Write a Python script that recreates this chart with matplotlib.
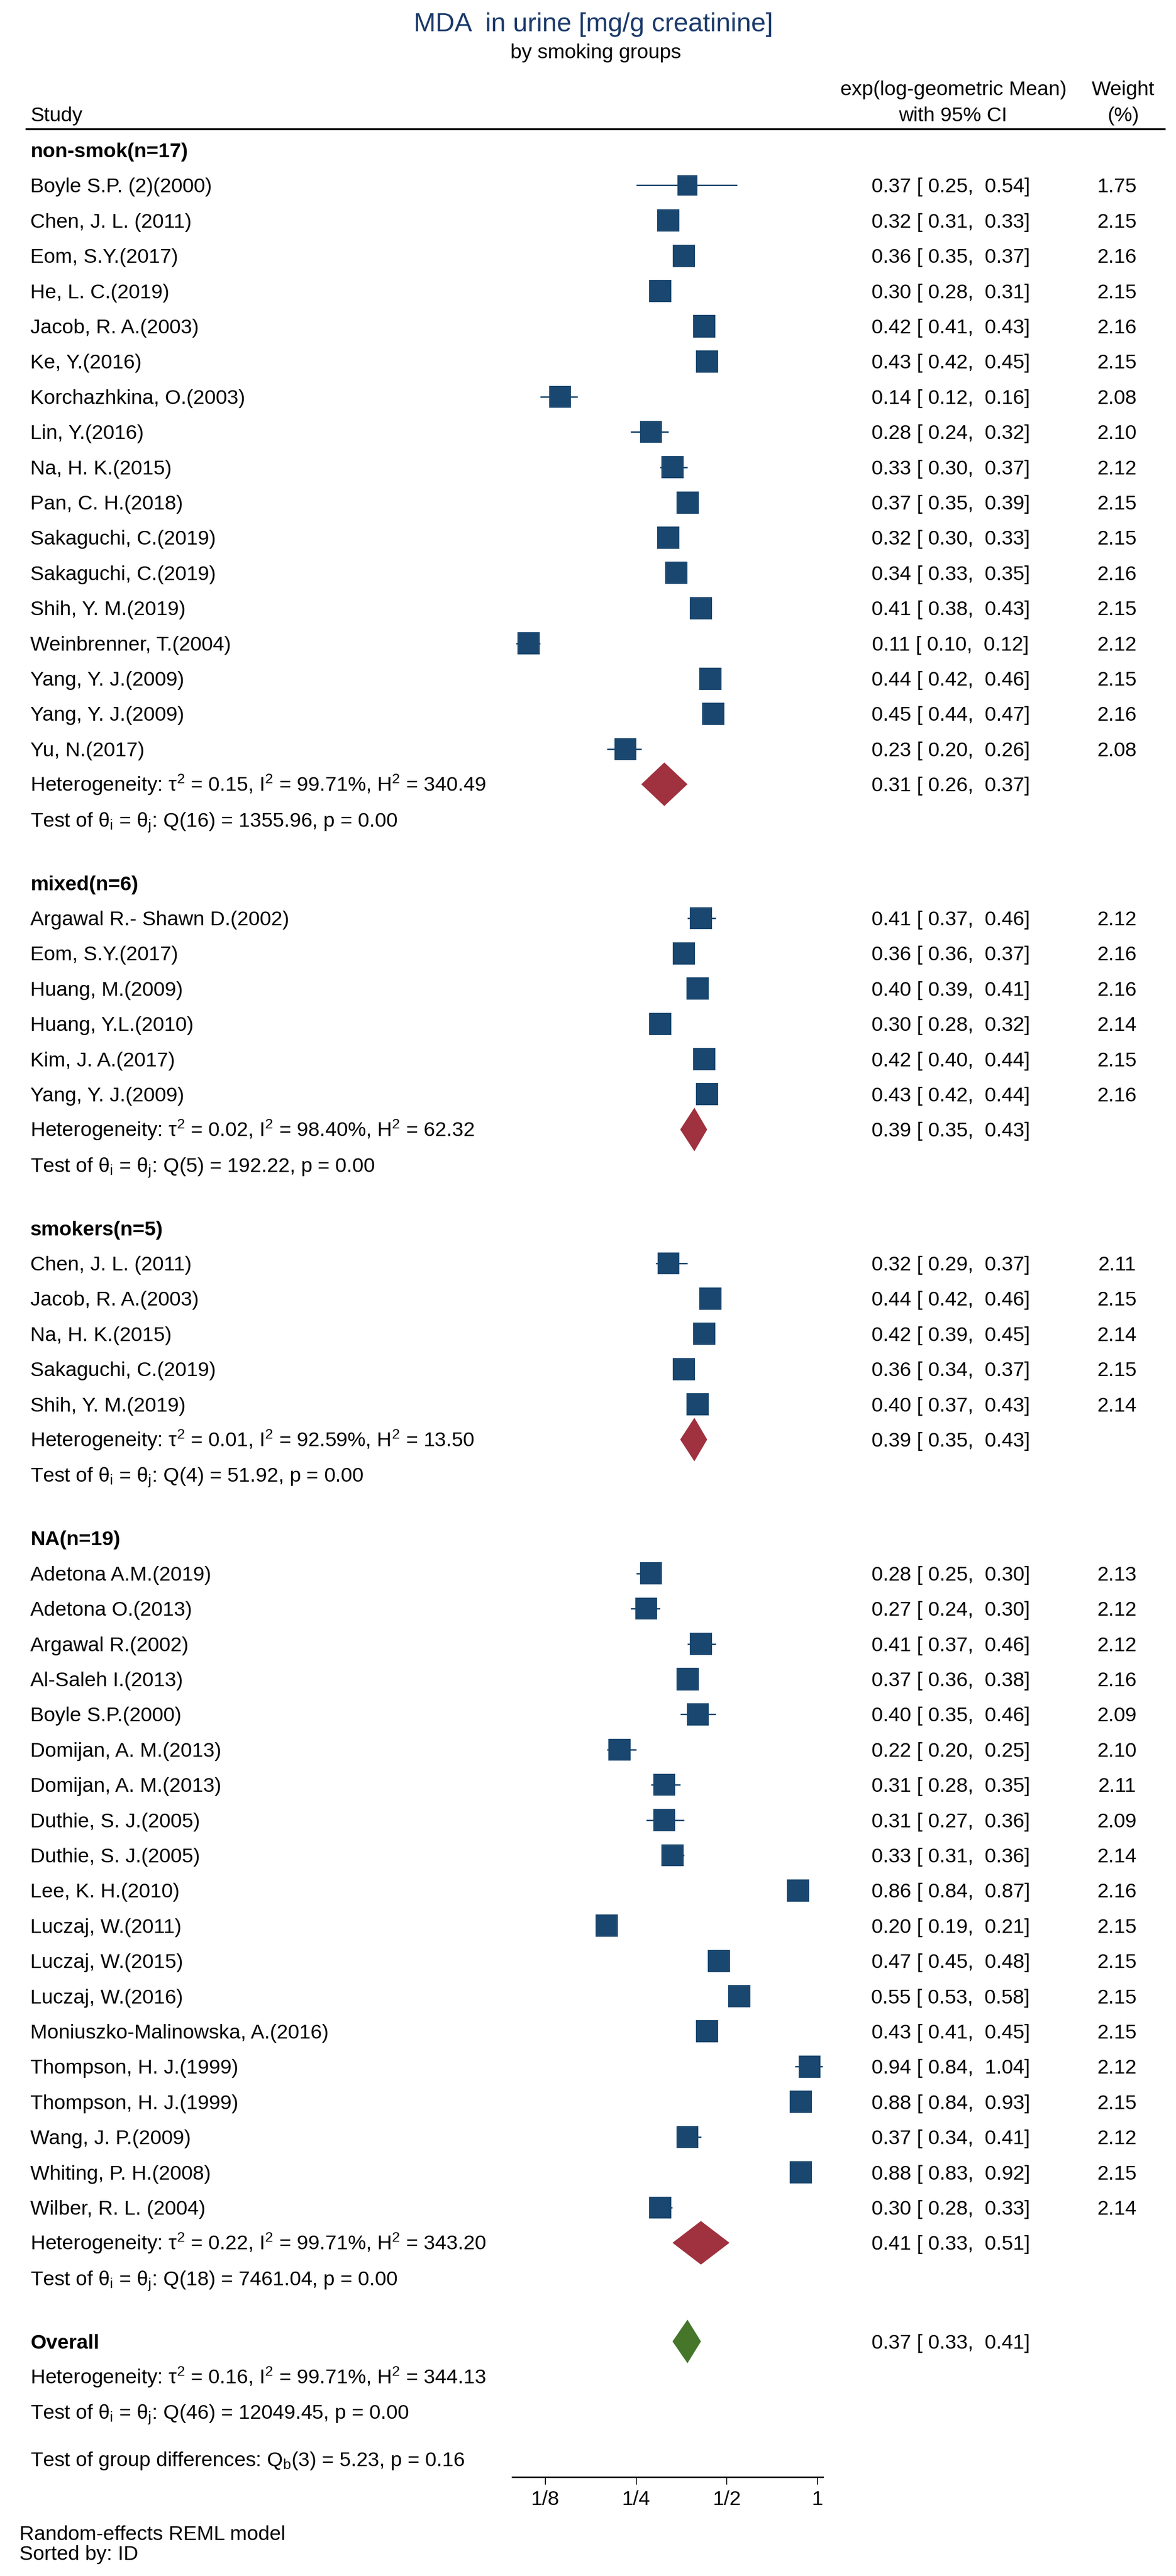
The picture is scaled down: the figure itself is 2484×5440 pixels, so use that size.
import matplotlib
matplotlib.use("Agg")
import matplotlib.pyplot as plt
from matplotlib.patches import Polygon
from matplotlib.lines import Line2D
import numpy as np

plt.rcParams['font.family'] = ['Liberation Sans', 'DejaVu Sans']
plt.rcParams['mathtext.default'] = 'regular'

# ---------------- data ----------------
ns_study = ["Boyle S.P. (2)(2000)", "Chen, J. L. (2011)", "Eom, S.Y.(2017)", "He, L. C.(2019)",
            "Jacob, R. A.(2003)", "Ke, Y.(2016)", "Korchazhkina, O.(2003)", "Lin, Y.(2016)",
            "Na, H. K.(2015)", "Pan, C. H.(2018)", "Sakaguchi, C.(2019)", "Sakaguchi, C.(2019)",
            "Shih, Y. M.(2019)", "Weinbrenner, T.(2004)", "Yang, Y. J.(2009)", "Yang, Y. J.(2009)",
            "Yu, N.(2017)"]
ns_est = [0.37, 0.32, 0.36, 0.30, 0.42, 0.43, 0.14, 0.28, 0.33, 0.37, 0.32, 0.34, 0.41, 0.11, 0.44, 0.45, 0.23]
ns_lo = [0.25, 0.31, 0.35, 0.28, 0.41, 0.42, 0.12, 0.24, 0.30, 0.35, 0.30, 0.33, 0.38, 0.10, 0.42, 0.44, 0.20]
ns_hi = [0.54, 0.33, 0.37, 0.31, 0.43, 0.45, 0.16, 0.32, 0.37, 0.39, 0.33, 0.35, 0.43, 0.12, 0.46, 0.47, 0.26]
ns_wt = [1.75, 2.15, 2.16, 2.15, 2.16, 2.15, 2.08, 2.10, 2.12, 2.15, 2.15, 2.16, 2.15, 2.12, 2.15, 2.16, 2.08]

mx_study = ["Argawal R.- Shawn D.(2002)", "Eom, S.Y.(2017)", "Huang, M.(2009)", "Huang, Y.L.(2010)",
            "Kim, J. A.(2017)", "Yang, Y. J.(2009)"]
mx_est = [0.41, 0.36, 0.40, 0.30, 0.42, 0.43]
mx_lo = [0.37, 0.36, 0.39, 0.28, 0.40, 0.42]
mx_hi = [0.46, 0.37, 0.41, 0.32, 0.44, 0.44]
mx_wt = [2.12, 2.16, 2.16, 2.14, 2.15, 2.16]

sm_study = ["Chen, J. L. (2011)", "Jacob, R. A.(2003)", "Na, H. K.(2015)", "Sakaguchi, C.(2019)",
            "Shih, Y. M.(2019)"]
sm_est = [0.32, 0.44, 0.42, 0.36, 0.40]
sm_lo = [0.29, 0.42, 0.39, 0.34, 0.37]
sm_hi = [0.37, 0.46, 0.45, 0.37, 0.43]
sm_wt = [2.11, 2.15, 2.14, 2.15, 2.14]

na_study = ["Adetona A.M.(2019)", "Adetona O.(2013)", "Argawal R.(2002)", "Al-Saleh I.(2013)",
            "Boyle S.P.(2000)", "Domijan, A. M.(2013)", "Domijan, A. M.(2013)", "Duthie, S. J.(2005)",
            "Duthie, S. J.(2005)", "Lee, K. H.(2010)", "Luczaj, W.(2011)", "Luczaj, W.(2015)",
            "Luczaj, W.(2016)", "Moniuszko-Malinowska, A.(2016)", "Thompson, H. J.(1999)",
            "Thompson, H. J.(1999)", "Wang, J. P.(2009)", "Whiting, P. H.(2008)", "Wilber, R. L. (2004)"]
na_est = [0.28, 0.27, 0.41, 0.37, 0.40, 0.22, 0.31, 0.31, 0.33, 0.86, 0.20, 0.47, 0.55, 0.43, 0.94, 0.88, 0.37, 0.88, 0.30]
na_lo = [0.25, 0.24, 0.37, 0.36, 0.35, 0.20, 0.28, 0.27, 0.31, 0.84, 0.19, 0.45, 0.53, 0.41, 0.84, 0.84, 0.34, 0.83, 0.28]
na_hi = [0.30, 0.30, 0.46, 0.38, 0.46, 0.25, 0.35, 0.36, 0.36, 0.87, 0.21, 0.48, 0.58, 0.45, 1.04, 0.93, 0.41, 0.92, 0.33]
na_wt = [2.13, 2.12, 2.12, 2.16, 2.09, 2.10, 2.11, 2.09, 2.14, 2.16, 2.15, 2.15, 2.15, 2.15, 2.12, 2.15, 2.12, 2.15, 2.14]

group_names = ["non-smok(n=17)", "mixed(n=6)", "smokers(n=5)", "NA(n=19)"]
group_est = [0.31, 0.39, 0.39, 0.41]
group_lo = [0.26, 0.35, 0.35, 0.33]
group_hi = [0.37, 0.43, 0.43, 0.51]
group_tau2 = ["0.15", "0.02", "0.01", "0.22"]
group_I2 = ["99.71", "98.40", "92.59", "99.71"]
group_H2 = ["340.49", "62.32", "13.50", "343.20"]
group_Qdf = [16, 5, 4, 18]
group_Q = ["1355.96", "192.22", "51.92", "7461.04"]
group_p = ["0.00", "0.00", "0.00", "0.00"]

overall_est, overall_lo, overall_hi = 0.37, 0.33, 0.41
overall_tau2, overall_I2, overall_H2 = "0.16", "99.71", "344.13"
overall_Qdf, overall_Q, overall_p = 46, "12049.45", "0.00"
diff_df, diff_Q, diff_p = 3, "5.23", "0.16"

tick_vals = [1/8, 1/4, 1/2, 1]
tick_labels = ["1/8", "1/4", "1/2", "1"]

groups = [
    (ns_study, ns_est, ns_lo, ns_hi, ns_wt),
    (mx_study, mx_est, mx_lo, mx_hi, mx_wt),
    (sm_study, sm_est, sm_lo, sm_hi, sm_wt),
    (na_study, na_est, na_lo, na_hi, na_wt),
]

# ---------------- layout ----------------
W, H, DPI = 2484, 5440, 100
FS = 31
BOX = "#1a476f"
RED = "#a0313e"
GREEN = "#45762a"
TITLE_C = "#1b3a6b"

PX_EIGHTH = 1152.0
PX_DOUBLING = 191.7
AX_L, AX_R = 1082.0, 1738.0
AXIS_Y = 5231.0
PITCH = 74.4
Y0 = 317.0
GAP = 1.80
X_LABEL = 64
X_VAL = 2008
X_WT = 2360
BASE_OFF = 15  # baseline offset from row centre

fig = plt.figure(figsize=(W / DPI, H / DPI), dpi=DPI)
fig.patch.set_facecolor("white")

xlo = (1 / 8) * 2 ** ((AX_L - PX_EIGHTH) / PX_DOUBLING)
xhi = (1 / 8) * 2 ** ((AX_R - PX_EIGHTH) / PX_DOUBLING)

ax = fig.add_axes([AX_L / W, (H - AXIS_Y) / H, (AX_R - AX_L) / W, AXIS_Y / H])
ax.set_xscale("log", base=2)
ax.set_xlim(xlo, xhi)
ax.set_ylim(AXIS_Y, 0)
ax.patch.set_alpha(0)
for s in ["top", "left", "right"]:
    ax.spines[s].set_visible(False)
ax.spines["bottom"].set_linewidth(2.3)
ax.set_yticks([])
ax.set_xticks(tick_vals)
ax.set_xticklabels(tick_labels)
ax.xaxis.set_minor_locator(matplotlib.ticker.NullLocator())
ax.tick_params(axis="x", length=11.5, width=1.4, labelsize=FS, pad=9)


def ftext(x, y, s, **kw):
    fig.text(x / W, 1 - y / H, s, fontsize=kw.pop("fontsize", FS), **kw)


# titles
ftext(1253, 66, "MDA  in urine [mg/g creatinine]", fontsize=40, color=TITLE_C, ha="center", va="baseline")
ftext(1258, 123, "by smoking groups", ha="center", va="baseline")
ftext(2014, 201, "exp(log-geometric Mean)", ha="center", va="baseline")
ftext(2013, 256, "with 95% CI", ha="center", va="baseline")
ftext(2372, 201, "Weight", ha="center", va="baseline")
ftext(2373, 256, "(%)", ha="center", va="baseline")
ftext(X_LABEL, 256, "Study", ha="left", va="baseline")
fig.add_artist(Line2D([56 / W, 2460 / W], [1 - 273 / H, 1 - 273 / H], color="black", lw=2.9,
                      transform=fig.transFigure))


def val_text(e, l, h):
    return f"{e:.2f} [ {l:.2f},  {h:.2f}]"


def het_text(t2, i2, h2):
    return f"Heterogeneity: τ$^{{2}}$ = {t2}, I$^{{2}}$ = {i2}%, H$^{{2}}$ = {h2}"


def test_text(df, q, p):
    return f"Test of θ$_{{i}}$ = θ$_{{j}}$: Q({df}) = {q}, p = {p}"


def diamond(est, lo, hi, y, color):
    hh = 46
    poly = Polygon([[lo, y], [est, y - hh], [hi, y], [est, y + hh]], closed=True,
                   facecolor=color, edgecolor="none", zorder=4, clip_on=False)
    ax.add_patch(poly)


y = Y0
for gi, (names, est, lo, hi, wt) in enumerate(groups):
    if gi > 0:
        y += GAP * PITCH
    ftext(X_LABEL, y + BASE_OFF, group_names[gi], fontweight="bold", ha="left", va="baseline")
    ys = []
    for k in range(len(names)):
        y += PITCH
        ys.append(y)
        ftext(X_LABEL, y + BASE_OFF, names[k], ha="left", va="baseline")
        ftext(X_VAL, y + BASE_OFF, val_text(est[k], lo[k], hi[k]), ha="center", va="baseline")
        ftext(X_WT, y + BASE_OFF, f"{wt[k]:.2f}", ha="center", va="baseline")
    ys = np.array(ys)
    ax.hlines(ys, lo, hi, color=BOX, lw=2.2, zorder=2)
    side_pt = 47 * np.sqrt(np.array(wt) / 2.15) * 72 / DPI
    ax.scatter(est, ys, marker="s", s=side_pt ** 2, color=BOX, linewidths=0, zorder=3)
    y += PITCH
    ftext(X_LABEL, y + BASE_OFF, het_text(group_tau2[gi], group_I2[gi], group_H2[gi]), ha="left", va="baseline")
    ftext(X_VAL, y + BASE_OFF, val_text(group_est[gi], group_lo[gi], group_hi[gi]), ha="center", va="baseline")
    diamond(group_est[gi], group_lo[gi], group_hi[gi], y, RED)
    y += PITCH
    ftext(X_LABEL, y + BASE_OFF, test_text(group_Qdf[gi], group_Q[gi], group_p[gi]), ha="left", va="baseline")

# overall
y += GAP * PITCH
ftext(X_LABEL, y + BASE_OFF, "Overall", fontweight="bold", ha="left", va="baseline")
ftext(X_VAL, y + BASE_OFF, val_text(overall_est, overall_lo, overall_hi), ha="center", va="baseline")
diamond(overall_est, overall_lo, overall_hi, y, GREEN)
y += PITCH
ftext(X_LABEL, y + BASE_OFF, het_text(overall_tau2, overall_I2, overall_H2), ha="left", va="baseline")
y += PITCH
ftext(X_LABEL, y + BASE_OFF, test_text(overall_Qdf, overall_Q, overall_p), ha="left", va="baseline")
y += 1.34 * PITCH
ftext(X_LABEL, y + BASE_OFF, f"Test of group differences: Q$_{{b}}$({diff_df}) = {diff_Q}, p = {diff_p}",
      ha="left", va="baseline")

ftext(41, 5364, "Random-effects REML model", ha="left", va="baseline")
ftext(41, 5406, "Sorted by: ID", ha="left", va="baseline")

fig.savefig("out.png", dpi=DPI, facecolor="white")
